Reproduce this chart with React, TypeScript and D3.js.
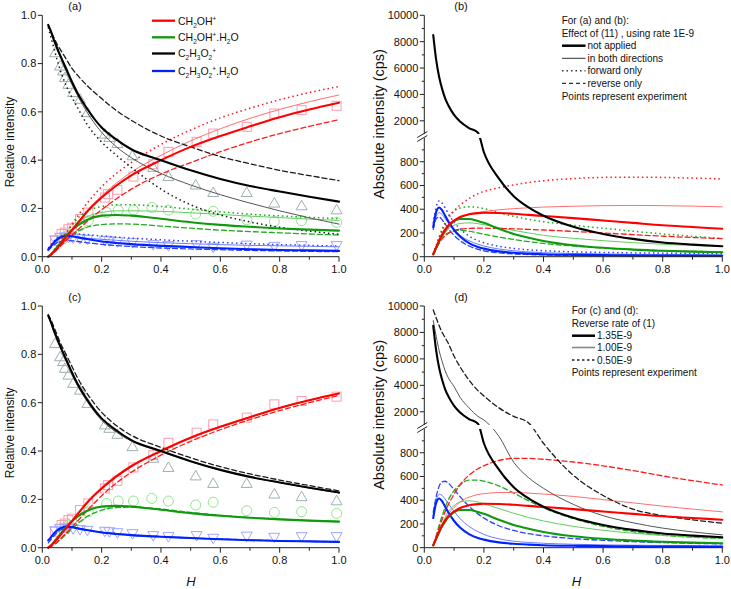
import React from "react";
import * as d3 from "d3";

// ---------- DATA ----------
// relative-intensity x grid (panels a, c)
const xRel = [0.02, 0.03, 0.04, 0.05, 0.06, 0.08, 0.1, 0.12, 0.15, 0.2, 0.25, 0.3, 0.4, 0.5, 0.6, 0.7, 0.8, 0.9, 1.0];

// panel (a)
const aBlackThick = [0.96, 0.93, 0.895, 0.865, 0.835, 0.78, 0.725, 0.675, 0.615, 0.535, 0.485, 0.445, 0.4, 0.358, 0.322, 0.293, 0.27, 0.248, 0.228];
const aBlackThin = [0.96, 0.925, 0.89, 0.858, 0.828, 0.77, 0.715, 0.665, 0.6, 0.515, 0.455, 0.41, 0.345, 0.297, 0.257, 0.222, 0.19, 0.161, 0.135];
const aBlackDot = [0.95, 0.905, 0.86, 0.815, 0.775, 0.71, 0.66, 0.615, 0.55, 0.475, 0.42, 0.37, 0.28, 0.215, 0.173, 0.144, 0.122, 0.106, 0.093];
const aBlackDash = [0.955, 0.93, 0.905, 0.88, 0.86, 0.82, 0.78, 0.75, 0.71, 0.655, 0.605, 0.565, 0.5, 0.455, 0.415, 0.385, 0.358, 0.336, 0.315];
const aRedThick = [0, 0.01, 0.022, 0.035, 0.05, 0.08, 0.11, 0.14, 0.185, 0.245, 0.295, 0.337, 0.4, 0.455, 0.5, 0.54, 0.578, 0.61, 0.638];
const aRedThin = [0, 0.01, 0.022, 0.036, 0.051, 0.082, 0.112, 0.143, 0.19, 0.252, 0.305, 0.35, 0.42, 0.48, 0.53, 0.573, 0.61, 0.642, 0.67];
const aRedDot = [0, 0.012, 0.026, 0.042, 0.06, 0.097, 0.135, 0.17, 0.22, 0.29, 0.345, 0.39, 0.465, 0.525, 0.575, 0.615, 0.65, 0.68, 0.705];
const aRedDash = [0, 0.008, 0.018, 0.03, 0.042, 0.066, 0.09, 0.112, 0.145, 0.195, 0.24, 0.28, 0.342, 0.39, 0.435, 0.475, 0.51, 0.54, 0.568];
const aGreenThick = [0, 0.01, 0.025, 0.04, 0.055, 0.085, 0.11, 0.13, 0.152, 0.17, 0.173, 0.17, 0.157, 0.143, 0.132, 0.124, 0.117, 0.112, 0.108];
const aGreenThin = [0, 0.01, 0.025, 0.04, 0.055, 0.087, 0.115, 0.14, 0.165, 0.183, 0.19, 0.19, 0.188, 0.182, 0.175, 0.168, 0.162, 0.156, 0.15];
const aGreenDot = [0, 0.012, 0.028, 0.045, 0.062, 0.097, 0.13, 0.16, 0.188, 0.208, 0.215, 0.215, 0.208, 0.197, 0.186, 0.176, 0.169, 0.163, 0.158];
const aGreenDash = [0, 0.008, 0.02, 0.033, 0.045, 0.068, 0.088, 0.105, 0.122, 0.133, 0.136, 0.135, 0.127, 0.118, 0.11, 0.104, 0.099, 0.094, 0.09];
const aBlueThick = [0.03, 0.045, 0.06, 0.072, 0.08, 0.087, 0.085, 0.08, 0.073, 0.063, 0.057, 0.052, 0.045, 0.04, 0.035, 0.031, 0.028, 0.026, 0.024];
const aBlueThin = [0.03, 0.045, 0.058, 0.068, 0.075, 0.082, 0.083, 0.081, 0.077, 0.072, 0.068, 0.064, 0.058, 0.054, 0.05, 0.047, 0.045, 0.043, 0.041];
const aBlueDot = [0.035, 0.05, 0.065, 0.077, 0.085, 0.093, 0.095, 0.094, 0.091, 0.086, 0.081, 0.077, 0.07, 0.064, 0.059, 0.054, 0.05, 0.047, 0.044];
const aBlueDash = [0.025, 0.038, 0.05, 0.058, 0.063, 0.067, 0.066, 0.063, 0.058, 0.051, 0.046, 0.042, 0.036, 0.032, 0.029, 0.026, 0.024, 0.022, 0.021];

// panel (c) (thick lines are the same as panel a)
const cBlackThin = [0.958, 0.926, 0.89, 0.86, 0.83, 0.772, 0.717, 0.667, 0.607, 0.527, 0.478, 0.441, 0.397, 0.356, 0.321, 0.292, 0.269, 0.247, 0.227];
const cBlackDash = [0.965, 0.94, 0.91, 0.88, 0.85, 0.8, 0.75, 0.7, 0.64, 0.56, 0.505, 0.465, 0.415, 0.372, 0.335, 0.305, 0.28, 0.257, 0.235];
const cRedThin = [0, 0.01, 0.023, 0.036, 0.051, 0.082, 0.113, 0.143, 0.189, 0.25, 0.3, 0.341, 0.403, 0.457, 0.502, 0.542, 0.58, 0.612, 0.64];
const cRedDash = [0, 0.006, 0.014, 0.024, 0.035, 0.06, 0.085, 0.112, 0.152, 0.215, 0.268, 0.312, 0.383, 0.44, 0.488, 0.53, 0.567, 0.6, 0.63];
const cGreenThin = [0, 0.01, 0.026, 0.041, 0.056, 0.086, 0.112, 0.132, 0.154, 0.171, 0.174, 0.171, 0.158, 0.144, 0.133, 0.125, 0.118, 0.113, 0.109];
const cGreenDash = [0, 0.005, 0.013, 0.022, 0.032, 0.055, 0.08, 0.1, 0.128, 0.155, 0.166, 0.168, 0.16, 0.146, 0.134, 0.125, 0.118, 0.112, 0.108];
const cBlueThin = [0.03, 0.046, 0.061, 0.073, 0.081, 0.087, 0.085, 0.08, 0.073, 0.064, 0.058, 0.053, 0.046, 0.04, 0.036, 0.032, 0.029, 0.026, 0.024];
const cBlueDash = [0.02, 0.035, 0.05, 0.063, 0.072, 0.082, 0.083, 0.08, 0.073, 0.064, 0.058, 0.053, 0.046, 0.04, 0.036, 0.032, 0.029, 0.026, 0.024];

// experimental points (a, c)
const triX = [0.043, 0.06, 0.07, 0.076, 0.088, 0.104, 0.127, 0.152, 0.211, 0.226, 0.253, 0.304, 0.374, 0.425, 0.517, 0.576, 0.689, 0.782, 0.874, 0.992];
const triY = [0.845, 0.79, 0.77, 0.742, 0.714, 0.68, 0.652, 0.597, 0.508, 0.494, 0.469, 0.418, 0.37, 0.332, 0.297, 0.266, 0.266, 0.222, 0.211, 0.194];
const sqX = [0.043, 0.065, 0.076, 0.088, 0.1, 0.127, 0.155, 0.211, 0.222, 0.253, 0.307, 0.374, 0.425, 0.52, 0.576, 0.689, 0.782, 0.874, 0.992];
const sqY = [0.066, 0.094, 0.1, 0.114, 0.12, 0.156, 0.183, 0.245, 0.259, 0.277, 0.332, 0.383, 0.434, 0.476, 0.51, 0.538, 0.593, 0.607, 0.625];
const circX = [0.07, 0.088, 0.127, 0.155, 0.217, 0.256, 0.307, 0.369, 0.425, 0.517, 0.576, 0.689, 0.782, 0.874, 0.992];
const circY = [0.073, 0.094, 0.128, 0.149, 0.183, 0.193, 0.193, 0.204, 0.193, 0.177, 0.188, 0.153, 0.146, 0.149, 0.142];
const itX = [0.043, 0.06, 0.076, 0.088, 0.104, 0.127, 0.152, 0.211, 0.226, 0.253, 0.304, 0.374, 0.425, 0.52, 0.576, 0.689, 0.782, 0.874, 0.992];
const itY = [0.07, 0.08, 0.082, 0.08, 0.078, 0.075, 0.072, 0.068, 0.066, 0.062, 0.058, 0.05, 0.046, 0.05, 0.039, 0.048, 0.043, 0.046, 0.046];

// absolute-intensity x grid (panels b, d)
const xAbs = [0.03, 0.04, 0.05, 0.06, 0.07, 0.08, 0.1, 0.12, 0.15, 0.18, 0.2, 0.25, 0.3, 0.35, 0.4, 0.5, 0.6, 0.7, 0.8, 0.9, 1.0];

// panel (b)
const bBlackThick = [8500, 6600, 5300, 4400, 3700, 3200, 2450, 1950, 1450, 1100, 880, 660, 510, 415, 345, 252, 192, 150, 120, 102, 88];
const bRedThick = [20, 80, 140, 190, 230, 262, 305, 335, 357, 367, 370, 368, 362, 352, 343, 325, 305, 285, 265, 250, 235];
const bRedThin = [20, 70, 120, 165, 205, 240, 290, 325, 355, 372, 380, 395, 405, 412, 418, 425, 430, 432, 430, 426, 420];
const bRedDot = [25, 90, 160, 220, 275, 320, 385, 435, 490, 530, 550, 580, 605, 625, 640, 658, 668, 670, 668, 662, 655];
const bRedDash = [20, 70, 115, 150, 175, 195, 220, 232, 238, 240, 240, 238, 235, 230, 225, 213, 200, 186, 173, 162, 152];
const bGreenThick = [20, 75, 130, 180, 220, 255, 300, 318, 318, 300, 285, 235, 192, 160, 133, 97, 75, 60, 50, 43, 38];
const bGreenThin = [20, 70, 120, 165, 200, 230, 265, 280, 285, 278, 270, 245, 222, 200, 180, 155, 135, 118, 105, 94, 86];
const bGreenDot = [25, 95, 170, 235, 290, 335, 385, 410, 420, 415, 405, 370, 340, 315, 295, 265, 240, 215, 192, 172, 153];
const bGreenDash = [20, 70, 120, 160, 185, 200, 218, 222, 215, 200, 190, 165, 145, 127, 112, 90, 73, 61, 51, 45, 40];
const bBlueThick = [250, 380, 415, 390, 345, 300, 225, 170, 115, 82, 68, 45, 33, 26, 21, 16, 13, 11, 10, 9, 8];
const bBlueThin = [240, 340, 370, 355, 320, 285, 225, 180, 135, 105, 90, 65, 50, 40, 34, 27, 23, 20, 18, 17, 16];
const bBlueDot = [280, 420, 470, 450, 410, 365, 290, 235, 175, 135, 118, 88, 70, 58, 50, 41, 36, 32, 30, 28, 27];
const bBlueDash = [230, 320, 335, 310, 275, 240, 180, 135, 90, 62, 50, 32, 23, 18, 15, 11, 9, 8, 7, 6, 6];

// panel (d) (thick lines are the same as panel b)
const dBlackThin = [8900, 7700, 6600, 5800, 5100, 4600, 3900, 3100, 2300, 1650, 1380, 940, 720, 590, 500, 365, 270, 210, 165, 133, 108];
const dBlackDash = [9700, 9100, 8500, 8000, 7600, 7200, 6200, 5400, 4400, 3600, 3200, 2300, 1650, 1150, 880, 610, 440, 325, 270, 235, 206];
const dRedThin = [20, 75, 135, 190, 240, 280, 340, 385, 425, 448, 455, 465, 465, 460, 452, 432, 405, 378, 350, 325, 302];
const dRedDash = [25, 95, 170, 240, 305, 360, 450, 530, 610, 665, 690, 735, 752, 752, 745, 722, 690, 650, 605, 565, 528];
const dGreenThin = [20, 75, 140, 200, 255, 300, 355, 385, 395, 385, 370, 330, 290, 255, 225, 180, 147, 122, 104, 90, 80];
const dGreenDash = [25, 100, 190, 270, 340, 400, 480, 530, 570, 570, 560, 520, 460, 395, 335, 245, 180, 135, 105, 88, 78];
const dBlueThin = [270, 400, 450, 440, 410, 375, 305, 245, 180, 135, 112, 75, 55, 44, 37, 29, 24, 21, 19, 17, 16];
const dBlueDash = [300, 430, 520, 555, 560, 545, 490, 430, 350, 285, 250, 185, 145, 118, 100, 77, 62, 51, 43, 37, 32];

// ticks
const xTicksMajor = [0, 0.2, 0.4, 0.6, 0.8, 1.0];
const xTicksMinor = [0.1, 0.3, 0.5, 0.7, 0.9];
const relTicks = [0, 0.2, 0.4, 0.6, 0.8, 1.0];
const absLowTicks = [0, 200, 400, 600, 800];
const absLowMinor = [100, 300, 500, 700, 900];
const absHighTicks = [2000, 4000, 6000, 8000, 10000];
const absHighMinor = [3000, 5000, 7000, 9000];

// ---------- STYLES ----------
const FONT = "'Liberation Sans', Arial, Helvetica, sans-serif";
const COL = {
  red: { thick: "#ff0000", thin: "#ff6f6f", dot: "#ff1a1a", dash: "#ff1a1a" },
  green: { thick: "#0f990f", thin: "#5fcf5f", dot: "#1faa1f", dash: "#1faa1f" },
  black: { thick: "#000000", thin: "#555555", dot: "#1a1a1a", dash: "#1a1a1a" },
  blue: { thick: "#0022ff", thin: "#6c7cff", dot: "#3040ff", dash: "#3040ff" },
};
const STY: Record<string, { w: number; dash?: string }> = {
  thick: { w: 2.1 },
  thin: { w: 1 },
  dot: { w: 1.5, dash: "1.5 3" },
  dash: { w: 1.3, dash: "5 3" },
};

type Curve = { x: number[]; y: number[]; c: keyof typeof COL; s: "thick" | "thin" | "dot" | "dash" };

const curvesA: Curve[] = [
  { x: xRel, y: aBlueDash, c: "blue", s: "dash" },
  { x: xRel, y: aBlueDot, c: "blue", s: "dot" },
  { x: xRel, y: aBlueThin, c: "blue", s: "thin" },
  { x: xRel, y: aGreenDash, c: "green", s: "dash" },
  { x: xRel, y: aGreenDot, c: "green", s: "dot" },
  { x: xRel, y: aGreenThin, c: "green", s: "thin" },
  { x: xRel, y: aRedDash, c: "red", s: "dash" },
  { x: xRel, y: aRedDot, c: "red", s: "dot" },
  { x: xRel, y: aRedThin, c: "red", s: "thin" },
  { x: xRel, y: aBlackDash, c: "black", s: "dash" },
  { x: xRel, y: aBlackDot, c: "black", s: "dot" },
  { x: xRel, y: aBlackThin, c: "black", s: "thin" },
  { x: xRel, y: aBlueThick, c: "blue", s: "thick" },
  { x: xRel, y: aGreenThick, c: "green", s: "thick" },
  { x: xRel, y: aRedThick, c: "red", s: "thick" },
  { x: xRel, y: aBlackThick, c: "black", s: "thick" },
];
const curvesC: Curve[] = [
  { x: xRel, y: cBlueDash, c: "blue", s: "dash" },
  { x: xRel, y: cBlueThin, c: "blue", s: "thin" },
  { x: xRel, y: cGreenDash, c: "green", s: "dash" },
  { x: xRel, y: cGreenThin, c: "green", s: "thin" },
  { x: xRel, y: cRedDash, c: "red", s: "dash" },
  { x: xRel, y: cRedThin, c: "red", s: "thin" },
  { x: xRel, y: cBlackDash, c: "black", s: "dash" },
  { x: xRel, y: cBlackThin, c: "black", s: "thin" },
  { x: xRel, y: aBlueThick, c: "blue", s: "thick" },
  { x: xRel, y: aGreenThick, c: "green", s: "thick" },
  { x: xRel, y: aRedThick, c: "red", s: "thick" },
  { x: xRel, y: aBlackThick, c: "black", s: "thick" },
];
const curvesB: Curve[] = [
  { x: xAbs, y: bBlueDash, c: "blue", s: "dash" },
  { x: xAbs, y: bBlueDot, c: "blue", s: "dot" },
  { x: xAbs, y: bBlueThin, c: "blue", s: "thin" },
  { x: xAbs, y: bGreenDash, c: "green", s: "dash" },
  { x: xAbs, y: bGreenDot, c: "green", s: "dot" },
  { x: xAbs, y: bGreenThin, c: "green", s: "thin" },
  { x: xAbs, y: bRedDash, c: "red", s: "dash" },
  { x: xAbs, y: bRedDot, c: "red", s: "dot" },
  { x: xAbs, y: bRedThin, c: "red", s: "thin" },
  { x: xAbs, y: bBlueThick, c: "blue", s: "thick" },
  { x: xAbs, y: bGreenThick, c: "green", s: "thick" },
  { x: xAbs, y: bRedThick, c: "red", s: "thick" },
  { x: xAbs, y: bBlackThick, c: "black", s: "thick" },
];
const curvesD: Curve[] = [
  { x: xAbs, y: dBlueDash, c: "blue", s: "dash" },
  { x: xAbs, y: dBlueThin, c: "blue", s: "thin" },
  { x: xAbs, y: dGreenDash, c: "green", s: "dash" },
  { x: xAbs, y: dGreenThin, c: "green", s: "thin" },
  { x: xAbs, y: dRedDash, c: "red", s: "dash" },
  { x: xAbs, y: dRedThin, c: "red", s: "thin" },
  { x: xAbs, y: dBlackDash, c: "black", s: "dash" },
  { x: xAbs, y: dBlackThin, c: "black", s: "thin" },
  { x: xAbs, y: bBlueThick, c: "blue", s: "thick" },
  { x: xAbs, y: bGreenThick, c: "green", s: "thick" },
  { x: xAbs, y: bRedThick, c: "red", s: "thick" },
  { x: xAbs, y: bBlackThick, c: "black", s: "thick" },
];

type Box = { left: number; right: number; bottom: number; top: number };
const BOX_A: Box = { left: 42.3, right: 339, bottom: 256.7, top: 15.3 };
const BOX_B: Box = { left: 424.3, right: 722.3, bottom: 256.7, top: 15.3 };
const BOX_C: Box = { left: 42.3, right: 339, bottom: 547.7, top: 306 };
const BOX_D: Box = { left: 424.3, right: 722.3, bottom: 547.7, top: 306 };

// chemical-formula text helper
type Part = [string, "n" | "b" | "p"];
function Chem({ x, y, parts, size }: { x: number; y: number; parts: Part[]; size: number }) {
  let cur = 0;
  return (
    <text x={x} y={y} fontSize={size} fontFamily={FONT} fill="#111">
      {parts.map(([t, k], i) => {
        const target = k === "b" ? 3 : k === "p" ? -4 : 0;
        const dy = target - cur;
        cur = target;
        return (
          <tspan key={i} dy={dy} fontSize={k === "n" ? size : size * 0.62}>
            {t}
          </tspan>
        );
      })}
    </text>
  );
}

function XAxis({ box, xs }: { box: Box; xs: d3.ScaleLinear<number, number> }) {
  return (
    <g>
      <line x1={box.left} x2={box.right} y1={box.bottom} y2={box.bottom} stroke="#222" strokeWidth={1} />
      {xTicksMajor.map((t) => (
        <g key={"M" + t}>
          <line x1={xs(t)} x2={xs(t)} y1={box.bottom} y2={box.bottom + 5} stroke="#222" />
          <text x={xs(t)} y={box.bottom + 16} textAnchor="middle" fontSize={11} fontFamily={FONT} fill="#111">
            {d3.format(".1f")(t)}
          </text>
        </g>
      ))}
      {xTicksMinor.map((t) => (
        <line key={"m" + t} x1={xs(t)} x2={xs(t)} y1={box.bottom} y2={box.bottom + 3} stroke="#222" />
      ))}
    </g>
  );
}

const lineGen = (xs: (v: number) => number, yf: (v: number) => number, c: Curve) =>
  d3
    .line<number>()
    .x((_, i) => xs(c.x[i]))
    .y((v) => yf(v))
    .curve(d3.curveMonotoneX)(c.y) || "";

function CurvePath({ d, c }: { d: string; c: Curve }) {
  const st = STY[c.s];
  return (
    <path
      d={d}
      fill="none"
      stroke={COL[c.c][c.s]}
      strokeWidth={st.w}
      strokeDasharray={st.dash}
      strokeLinejoin="round"
      strokeLinecap={c.s === "dot" ? "butt" : "round"}
    />
  );
}

function Markers({ xs, ys }: { xs: d3.ScaleLinear<number, number>; ys: d3.ScaleLinear<number, number> }) {
  return (
    <g fill="none" strokeWidth={1}>
      {sqX.map((x, i) => (
        <rect key={"s" + i} x={xs(x) - 4.5} y={ys(sqY[i]) - 4.5} width={9} height={9} stroke="#ff9cb0" />
      ))}
      {circX.map((x, i) => (
        <circle key={"c" + i} cx={xs(x)} cy={ys(circY[i])} r={5} stroke="#8fe68f" />
      ))}
      {triX.map((x, i) => {
        const cx = xs(x), cy = ys(triY[i]);
        return <path key={"t" + i} d={`M${cx},${cy - 5.5}L${cx + 5.5},${cy + 4}L${cx - 5.5},${cy + 4}Z`} stroke="#9fb0b2" />;
      })}
      {itX.map((x, i) => {
        const cx = xs(x), cy = ys(itY[i]);
        return <path key={"v" + i} d={`M${cx},${cy + 5.5}L${cx + 5.5},${cy - 4}L${cx - 5.5},${cy - 4}Z`} stroke="#a0a6ff" />;
      })}
    </g>
  );
}

function RelPanel({ box, curves, id, label }: { box: Box; curves: Curve[]; id: string; label: string }) {
  const xs = d3.scaleLinear().domain([0, 1]).range([box.left, box.right]);
  const ys = d3.scaleLinear().domain([0, 1]).range([box.bottom, box.top]);
  const midY = (box.top + box.bottom) / 2 + 6;
  return (
    <g>
      <Markers xs={xs} ys={ys} />
      {curves.map((c, i) => (
        <CurvePath key={i} d={lineGen(xs, ys, c)} c={c} />
      ))}
      <line x1={box.left} x2={box.left} y1={box.bottom} y2={box.top} stroke="#222" />
      {relTicks.map((t) => (
        <g key={t}>
          <line x1={box.left - 4.5} x2={box.left} y1={ys(t)} y2={ys(t)} stroke="#222" />
          <text x={box.left - 6} y={ys(t)} dy="0.35em" textAnchor="end" fontSize={11} fontFamily={FONT} fill="#111">
            {d3.format(".1f")(t)}
          </text>
        </g>
      ))}
      <XAxis box={box} xs={xs} />
      <text transform={`translate(14,${midY}) rotate(-90)`} textAnchor="middle" fontSize={12} fontFamily={FONT} fill="#111">
        Relative intensity
      </text>
      <text x={box.left + 26} y={box.top - 5} fontSize={11} fontFamily={FONT} fill="#111">
        {label}
      </text>
    </g>
  );
}

function AbsPanel({ box, curves, id, label }: { box: Box; curves: Curve[]; id: string; label: string }) {
  const xs = d3.scaleLinear().domain([0, 1]).range([box.left, box.right]);
  const lower = d3.scaleLinear().domain([0, 1000]).range([box.bottom, box.bottom - 118.7]);
  const upper = d3.scaleLinear().domain([1000, 10000]).range([box.bottom - 122.7, box.top]);
  const yf = (v: number) => (v <= 1000 ? lower(v) : upper(v));
  const gapMid = (lower(1000) + upper(1000)) / 2;
  const midY = (box.top + box.bottom) / 2 - 12;
  const tick = (y: number, len: number, key: string) => (
    <line key={key} x1={box.left - len} x2={box.left} y1={y} y2={y} stroke="#222" />
  );
  return (
    <g>
      <defs>
        <clipPath id={id + "lo"}>
          <rect x={box.left - 3} y={lower(1000)} width={box.right - box.left + 6} height={box.bottom - lower(1000) + 3} />
        </clipPath>
        <clipPath id={id + "hi"}>
          <rect x={box.left - 3} y={box.top - 5} width={box.right - box.left + 6} height={upper(1000) - box.top + 5} />
        </clipPath>
      </defs>
      <g clipPath={`url(#${id}lo)`}>
        {curves.map((c, i) => (
          <CurvePath key={i} d={lineGen(xs, yf, c)} c={c} />
        ))}
      </g>
      <g clipPath={`url(#${id}hi)`}>
        {curves.map((c, i) => (
          <CurvePath key={i} d={lineGen(xs, yf, c)} c={c} />
        ))}
      </g>
      <line x1={box.left} x2={box.left} y1={box.bottom} y2={lower(1000)} stroke="#222" />
      <line x1={box.left} x2={box.left} y1={upper(1000)} y2={box.top} stroke="#222" />
      <line x1={box.left - 7} x2={box.left + 3} y1={gapMid + 1.5} y2={gapMid - 4.5} stroke="#222" />
      <line x1={box.left - 7} x2={box.left + 3} y1={gapMid + 5.5} y2={gapMid - 0.5} stroke="#222" />
      {absLowTicks.map((t) => (
        <g key={"l" + t}>
          {tick(lower(t), 4.5, "t")}
          <text x={box.left - 6} y={lower(t)} dy="0.35em" textAnchor="end" fontSize={11} fontFamily={FONT} fill="#111">
            {t}
          </text>
        </g>
      ))}
      {absLowMinor.map((t) => tick(lower(t), 2.5, "lm" + t))}
      {absHighTicks.map((t) => (
        <g key={"h" + t}>
          {tick(upper(t), 4.5, "t")}
          <text x={box.left - 6} y={upper(t)} dy="0.35em" textAnchor="end" fontSize={11} fontFamily={FONT} fill="#111">
            {t}
          </text>
        </g>
      ))}
      {absHighMinor.map((t) => tick(upper(t), 2.5, "hm" + t))}
      <XAxis box={box} xs={xs} />
      <text transform={`translate(384,${midY}) rotate(-90)`} textAnchor="middle" fontSize={14.5} fontFamily={FONT} fill="#111">
        Absolute intensity (cps)
      </text>
      <text x={box.left + 30} y={box.top - 5} fontSize={11} fontFamily={FONT} fill="#111">
        {label}
      </text>
    </g>
  );
}

const legendA: { c: keyof typeof COL; parts: Part[] }[] = [
  { c: "red", parts: [["CH", "n"], ["2", "b"], ["OH", "n"], ["+", "p"]] },
  { c: "green", parts: [["CH", "n"], ["2", "b"], ["OH", "n"], ["+", "p"], [".H", "n"], ["2", "b"], ["O", "n"]] },
  { c: "black", parts: [["C", "n"], ["2", "b"], ["H", "n"], ["3", "b"], ["O", "n"], ["2", "b"], ["+", "p"]] },
  { c: "blue", parts: [["C", "n"], ["2", "b"], ["H", "n"], ["3", "b"], ["O", "n"], ["2", "b"], ["+", "p"], [".H", "n"], ["2", "b"], ["O", "n"]] },
];
const legendARows = [20.7, 37.3, 53.5, 71];

const legendBText = ["For (a) and (b):", "Effect of (11) , using rate 1E-9", "not applied", "in both directions", "forward only", "reverse only", "Points represent experiment"];
const legendBRows = [20.7, 33.3, 45.7, 58.3, 70.7, 83.3, 96.3];
const legendDText = ["For (c) and (d):", "Reverse rate of (1)", "1.35E-9", "1.00E-9", "0.50E-9", "Points represent experiment"];
const legendDRows = [310.7, 323.3, 335.7, 347.5, 360, 372.7];

export default function App() {
  const legBStyles = [
    { w: 2.5, col: "#000", dash: undefined },
    { w: 1, col: "#333", dash: undefined },
    { w: 1.5, col: "#333", dash: "1.5 3" },
    { w: 1.2, col: "#333", dash: "4 3" },
  ];
  const legDStyles = [
    { w: 2.5, col: "#000", dash: undefined },
    { w: 1.6, col: "#888", dash: undefined },
    { w: 1.3, col: "#222", dash: "2.5 2.5" },
  ];
  return (
    <svg width={731} height={589} style={{ position: "absolute", left: 0, top: 0, background: "#fff" }}>
      <rect width={731} height={589} fill="#fff" />
      <RelPanel box={BOX_A} curves={curvesA} id="pa" label="(a)" />
      <AbsPanel box={BOX_B} curves={curvesB} id="pb" label="(b)" />
      <RelPanel box={BOX_C} curves={curvesC} id="pc" label="(c)" />
      <AbsPanel box={BOX_D} curves={curvesD} id="pd" label="(d)" />

      {/* legend (a) */}
      {legendA.map((it, i) => (
        <g key={i}>
          <line x1={152} x2={175} y1={legendARows[i]} y2={legendARows[i]} stroke={COL[it.c].thick} strokeWidth={2.3} />
          <Chem x={178} y={legendARows[i] + 3.8} parts={it.parts} size={10.5} />
        </g>
      ))}

      {/* legend (b) */}
      {legendBText.map((t, i) => {
        const hasLine = i >= 2 && i <= 5;
        return (
          <g key={i}>
            {hasLine && (
              <line
                x1={562}
                x2={585.5}
                y1={legendBRows[i]}
                y2={legendBRows[i]}
                stroke={legBStyles[i - 2].col}
                strokeWidth={legBStyles[i - 2].w}
                strokeDasharray={legBStyles[i - 2].dash}
              />
            )}
            <text x={hasLine ? 587.5 : 561.7} y={legendBRows[i]} dy="0.35em" fontSize={10} fontFamily={FONT} fill="#111">
              {t}
            </text>
          </g>
        );
      })}

      {/* legend (d) */}
      {legendDText.map((t, i) => {
        const hasLine = i >= 2 && i <= 4;
        return (
          <g key={i}>
            {hasLine && (
              <line
                x1={572}
                x2={595}
                y1={legendDRows[i]}
                y2={legendDRows[i]}
                stroke={legDStyles[i - 2].col}
                strokeWidth={legDStyles[i - 2].w}
                strokeDasharray={legDStyles[i - 2].dash}
              />
            )}
            <text x={hasLine ? 597 : 571.7} y={legendDRows[i]} dy="0.35em" fontSize={10} fontFamily={FONT} fill="#111">
              {t}
            </text>
          </g>
        );
      })}

      {/* x titles */}
      <text x={191} y={586} textAnchor="middle" fontSize={13} fontStyle="italic" fontFamily={FONT} fill="#111">
        H
      </text>
      <text x={576.5} y={586} textAnchor="middle" fontSize={13} fontStyle="italic" fontFamily={FONT} fill="#111">
        H
      </text>
    </svg>
  );
}
